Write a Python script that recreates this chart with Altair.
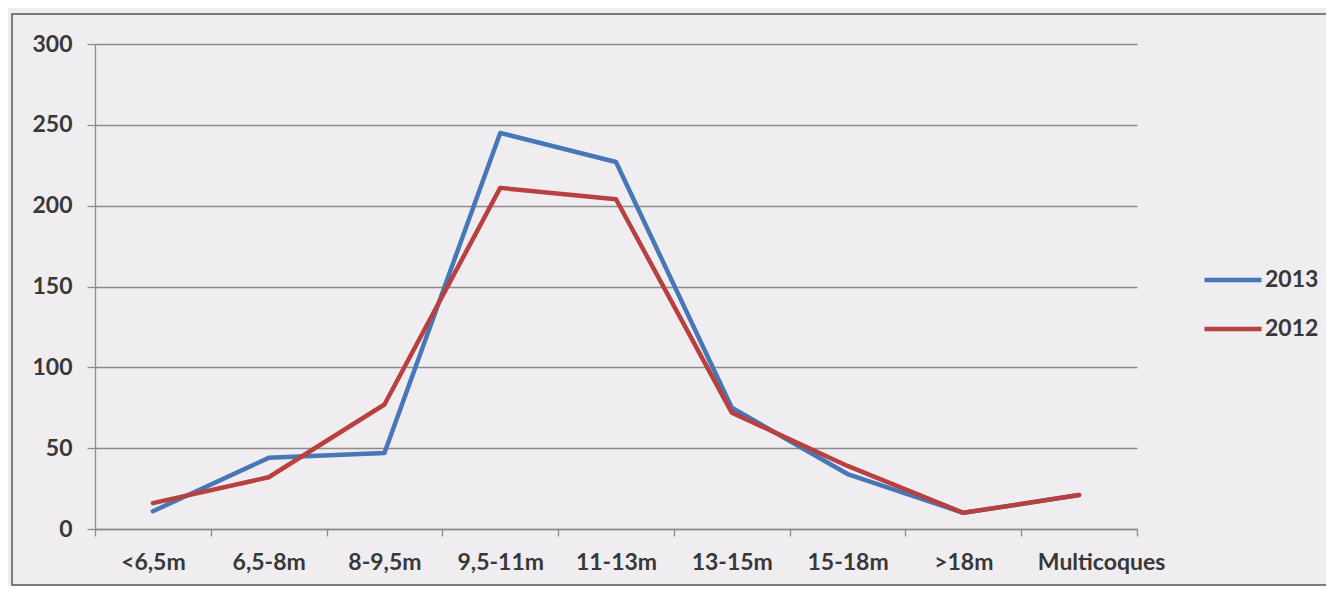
import altair as alt
import pandas as pd

categories = ["<6,5m", "6,5-8m", "8-9,5m", "9,5-11m", "11-13m", "13-15m", "15-18m", ">18m", "Multicoques"]
values_2013 = [11, 44, 47, 245, 227, 75, 34, 10, 21]
values_2012 = [16, 32, 77, 211, 204, 72, 39, 10, 21]
series = ["2013", "2012"]
colors = ["#4677b6", "#b8403f"]
y_ticks = [0, 50, 100, 150, 200, 250, 300]

rows = []
for s, vals in zip(series, [values_2013, values_2012]):
    for c, v in zip(categories, vals):
        rows.append({"cat": c, "value": v, "year": s})
df = pd.DataFrame(rows)

TEXT = "#383838"
GRID = "#8c8c8c"
FONT = "Lato"
FS = 23

lines = alt.Chart(df).mark_line(strokeWidth=4.5, strokeJoin="round", strokeCap="round").encode(
    x=alt.X(
        "cat:N",
        sort=categories,
        bandPosition=0.5,
        scale=alt.Scale(type="band", paddingInner=0, paddingOuter=0),
        axis=alt.Axis(
            title=None, labelAngle=0, tickBand="extent", grid=False,
            domainColor=GRID, tickColor=GRID, tickSize=7, domainWidth=1.3, tickWidth=1.3,
            labelFont=FONT, labelFontSize=FS, labelFontWeight="bold", labelColor=TEXT, labelPadding=15,
            labelOffset={"condition": {"test": "datum.value === 'Multicoques'", "value": 22}, "value": 0},
        ),
    ),
    y=alt.Y(
        "value:Q",
        scale=alt.Scale(domain=[0, 300], nice=False),
        axis=alt.Axis(
            title=None, values=y_ticks, grid=True, gridColor=GRID, gridWidth=1.3,
            domainColor=GRID, tickColor=GRID, tickSize=8, domainWidth=1.3, tickWidth=1.3,
            labelFont=FONT, labelFontSize=FS, labelFontWeight="bold", labelColor=TEXT, labelPadding=15,
        ),
    ),
    color=alt.Color(
        "year:N",
        sort=series,
        scale=alt.Scale(domain=series, range=colors),
        legend=alt.Legend(
            title=None, orient="none", legendX=1107, legendY=205, rowPadding=6,
            symbolType="stroke", symbolSize=3249, symbolStrokeWidth=4.5,
            labelFont=FONT, labelFontSize=FS, labelFontWeight="bold", labelColor=TEXT, labelOffset=1,
        ),
    ),
)

frame = alt.Chart(pd.DataFrame({"a": [0]})).mark_rect(
    fill=None, stroke="#555555", strokeWidth=1.5
).encode(
    x=alt.value(-83), x2=alt.value(1300), y=alt.value(-30), y2=alt.value(541)
)

chart = alt.layer(frame, lines).properties(
    width=1042, height=485,
    autosize=alt.AutoSizeParams(type="none"),
    padding={"left": 87, "top": 36, "right": 189, "bottom": 57},
    background="#f0edf1",
).configure_view(stroke=None)

chart.save("out.html", embed_options={"renderer": "svg", "actions": False})
